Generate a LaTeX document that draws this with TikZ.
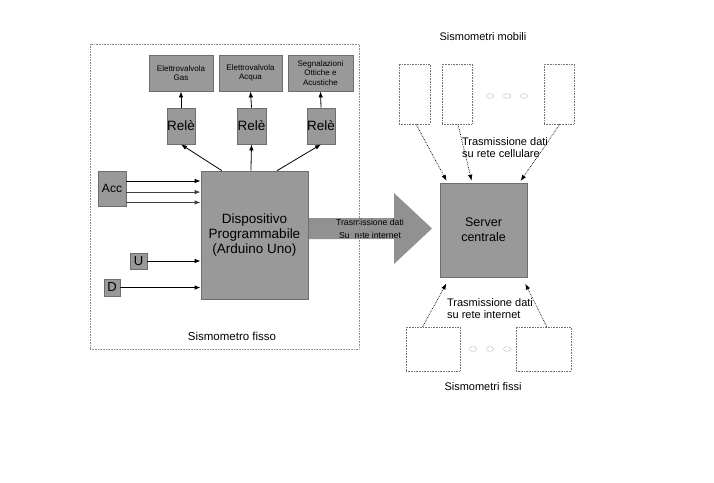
\documentclass[tikz,border=0pt]{standalone}
\usepackage{fontspec}
\setmainfont{Liberation Sans}
\usetikzlibrary{calc,arrows.meta}
\definecolor{boxfill}{HTML}{999999}
\definecolor{boxline}{HTML}{6E6E6E}
\begin{document}
\begin{tikzpicture}[x=1pt,y=-1pt,
  gbox/.style={draw=boxline,fill=boxfill,line width=0.8pt,inner sep=0pt,align=center},
  dbox/.style={draw=black!55,densely dotted,line width=0.6pt,inner sep=0pt},
  sarrow/.style={-{Latex[length=6pt,width=4.5pt]},line width=0.8pt},
  darrow/.style={-{Latex[length=6pt,width=4.5pt]},densely dotted,line width=0.7pt},
  blob/.style={draw=black!50,densely dotted,line width=0.5pt},
  lbl/.style={inner sep=0pt,align=center}]
\useasboundingbox (0,0) rectangle (714,482);
% big arrow
\fill[boxfill!95!black] (308,218) -- (394,218) -- (394,193) -- (432,228.5) -- (394,264) -- (394,239) -- (308,239) -- cycle;
\node[lbl,font=\fontsize{8.7}{13}\selectfont] (bigtxt) at (370,229) {Trasmissione dati\\Su\ \ rete internet};
% outer dotted frame
\node[dbox,draw=black!45,minimum width=269pt,minimum height=305pt] (frame) at (224.5,196.5) {};
% top boxes
\newcommand{\bx}[6]{\node[gbox,minimum width=#3pt,minimum height=#4pt,font=#5] (#1) at #2 {#6};}
\bx{ev1}{(181,73)}{64}{36}{\fontsize{8}{9.3}\selectfont}{Elettrovalvola\\Gas}
\bx{ev2}{(250.5,73)}{63}{36}{\fontsize{8}{9.3}\selectfont}{Elettrovalvola\\Acqua}
\bx{ev3}{(320.5,73)}{65}{36}{\fontsize{8}{9.3}\selectfont}{Segnalazioni\\Ottiche e\\Acustiche}
\bx{r1}{(181,126)}{28}{36}{\fontsize{13.5}{15}\selectfont}{Relè}
\bx{r2}{(251.5,126)}{29}{36}{\fontsize{13.5}{15}\selectfont}{Relè}
\bx{r3}{(321,126)}{28}{36}{\fontsize{13.5}{15}\selectfont}{Relè}
\bx{main}{(254.5,235)}{107}{128}{\fontsize{13.5}{15}\selectfont}{Dispositivo\\Programmabile\\(Arduino Uno)}
\bx{acc}{(112,188.5)}{28}{35}{\fontsize{12}{13}\selectfont}{Acc}
\bx{u}{(138.5,261)}{17}{16}{\fontsize{13}{13}\selectfont}{U}
\bx{d}{(112,287.5)}{16}{17}{\fontsize{13}{13}\selectfont}{D}
\node[lbl,font=\fontsize{11.5}{13}\selectfont] (fissolbl) at (232,336) {Sismometro fisso};
% arrows top
\draw[sarrow] (r1.north) -- (ev1.south);
\draw[sarrow] (r2.north) -- (ev2.south);
\draw[sarrow] (r3.north) -- (ev3.south);
\draw[sarrow] ($(main.north west)!0.196!(main.north east)$) -- (r1.south);
\draw[sarrow] ($(main.north west)!0.467!(main.north east)$) -- (r2.south);
\draw[sarrow] ($(main.north west)!0.71!(main.north east)$) -- (r3.south);
% inputs
\coordinate (a1) at ($(acc.north east)!0.29!(acc.south east)$);
\coordinate (a2) at ($(acc.north east)!0.6!(acc.south east)$);
\coordinate (a3) at ($(acc.north east)!0.89!(acc.south east)$);
\draw[sarrow] (a1) -- (main.west |- a1);
\draw[sarrow,black!75] (a2) -- (main.west |- a2);
\draw[sarrow,black!75] (a3) -- (main.west |- a3);
\draw[sarrow] (u.east) -- (main.west |- u.east);
\draw[sarrow] (d.east) -- (main.west |- d.east);
% server
\bx{server}{(483.5,230)}{87}{94}{\fontsize{12.5}{15}\selectfont}{Server\\centrale}
% mobile sismometers
\node[dbox,minimum width=31pt,minimum height=60pt] (m1) at (414.5,94) {};
\node[dbox,minimum width=30pt,minimum height=60pt] (m2) at (457,94) {};
\node[dbox,minimum width=30pt,minimum height=60pt] (m3) at (559,94) {};
\node[lbl,font=\fontsize{11}{12}\selectfont] (moblbl) at (483,37) {Sismometri mobili};
\draw[blob] (490,96) ellipse (3.5 and 2.5);
\draw[blob] (507,96) ellipse (3.5 and 2.5);
\draw[blob] (524,96) ellipse (3.5 and 2.5);
\node[lbl,align=left,font=\fontsize{11}{11.5}\selectfont] (celllbl) at (505,147.5) {Trasmissione dati\\su rete cellulare};
\draw[darrow,shorten >=2pt] ($(m1.south west)!0.55!(m1.south east)$) -- ($(server.north west)!0.09!(server.north east)$);
\draw[darrow,shorten >=2pt] ($(m2.south west)!0.53!(m2.south east)$) -- ($(server.north west)!0.37!(server.north east)$);
\draw[darrow,shorten >=2pt] ($(m3.south west)!0.53!(m3.south east)$) -- ($(server.north west)!0.91!(server.north east)$);
% fixed sismometers
\node[dbox,minimum width=54pt,minimum height=44pt] (f1) at (433,349) {};
\node[dbox,minimum width=55pt,minimum height=44pt] (f2) at (543.5,349) {};
\draw[blob] (473,349) ellipse (3.5 and 2.5);
\draw[blob] (490,349) ellipse (3.5 and 2.5);
\draw[blob] (507,349) ellipse (3.5 and 2.5);
\node[lbl,font=\fontsize{11}{12}\selectfont] (fisslbl) at (483,387) {Sismometri fissi};
\node[lbl,align=left,font=\fontsize{11}{11.5}\selectfont] (intlbl) at (490,308.5) {Trasmissione dati\\su rete internet};
\draw[darrow,shorten >=7pt] ($(f1.north west)!0.31!(f1.north east)$) -- ($(server.south west)!0.115!(server.south east)$);
\draw[darrow,shorten >=7pt] ($(f2.north west)!0.56!(f2.north east)$) -- ($(server.south west)!0.94!(server.south east)$);
\end{tikzpicture}
\end{document}
